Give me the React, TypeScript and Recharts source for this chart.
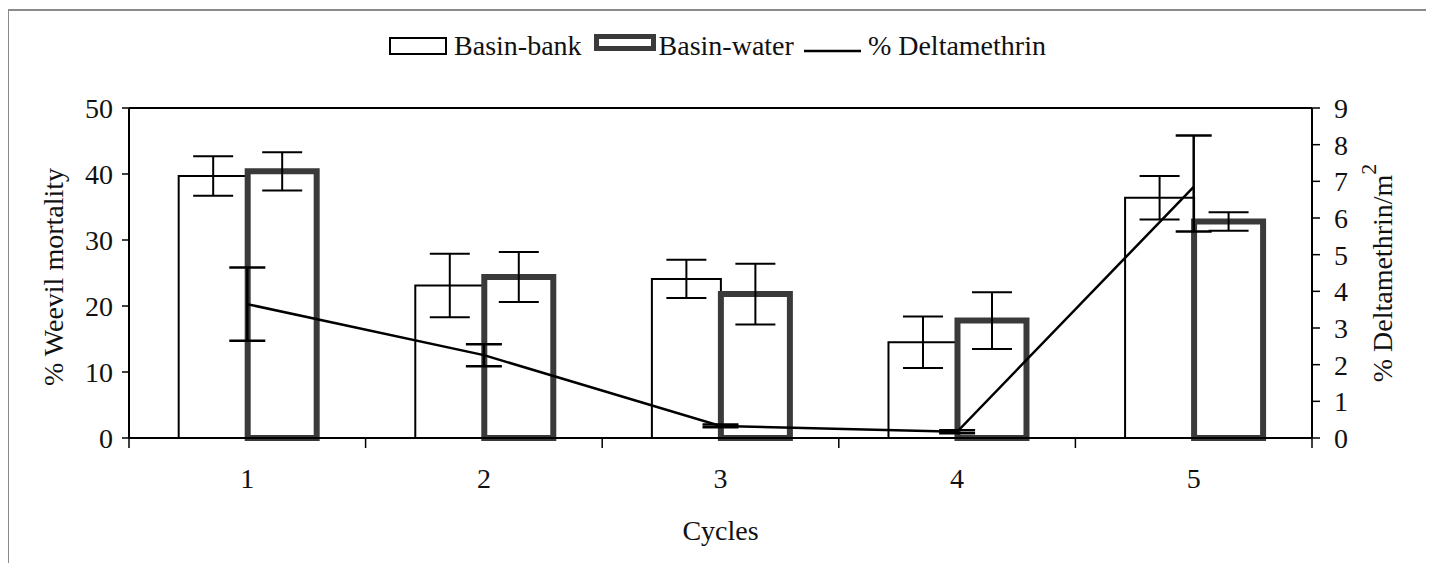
import React from "react";
import {
  Bar,
  ComposedChart,
  ErrorBar,
  Legend,
  Line,
  ReferenceLine,
  XAxis,
  YAxis,
} from "recharts";

const cycles = ["1", "2", "3", "4", "5"];
const basinBank = [39.7, 23.1, 24.1, 14.5, 36.4];
const basinBankErr = [3.0, 4.8, 2.9, 3.9, 3.3];
const basinWater = [40.4, 24.4, 21.8, 17.8, 32.8];
const basinWaterErr = [2.9, 3.8, 4.6, 4.3, 1.4];
const deltamethrin = [3.65, 2.26, 0.33, 0.17, 6.85];
const deltamethrinErr = [
  [1.0, 1.0],
  [0.3, 0.3],
  [0.04, 0.04],
  [0.04, 0.04],
  [1.22, 1.4],
];
const leftTicks = [0, 10, 20, 30, 40, 50];
const rightTicks = [0, 1, 2, 3, 4, 5, 6, 7, 8, 9];

const data = cycles.map((c, i) => ({
  cycle: c,
  bank: basinBank[i],
  bankErr: basinBankErr[i],
  water: basinWater[i],
  waterErr: basinWaterErr[i],
  delta: deltamethrin[i],
  deltaErr: deltamethrinErr[i],
}));

const FONT = "'Liberation Serif', 'Times New Roman', serif";
const INK = "#111";
const WATER = "#3a3a3a";
const X_TICK_GAP = 30;

const tickStyle = { fontSize: 28, fill: INK, fontFamily: FONT };

// category label plus the small tick marks that sit on the category boundaries
function CycleTick(props: any) {
  const { x, y, payload, index } = props;
  const half = payload.offset || 0;
  const axisY = y - X_TICK_GAP;
  return (
    <g>
      <line x1={x - half} y1={axisY} x2={x - half} y2={axisY + 10} stroke="#000" strokeWidth={1.5} />
      {index === cycles.length - 1 && (
        <line x1={x + half} y1={axisY} x2={x + half} y2={axisY + 10} stroke="#000" strokeWidth={1.5} />
      )}
      <text x={x} y={y} dy="0.71em" textAnchor="middle" {...tickStyle}>
        {payload.value}
      </text>
    </g>
  );
}

function LeftTitle(props: any) {
  const { x, y, height } = props.viewBox;
  const cx = x + 54;
  const cy = y + height / 2 + 4;
  return (
    <text
      x={cx}
      y={cy}
      transform={`rotate(-90 ${cx} ${cy})`}
      textAnchor="middle"
      fontSize={28}
      fontFamily={FONT}
      fill={INK}>
      % Weevil mortality
    </text>
  );
}

function RightTitle(props: any) {
  const { x, y, height } = props.viewBox;
  const cx = x + 80;
  const cy = y + height / 2;
  return (
    <text
      x={cx}
      y={cy}
      transform={`rotate(-90 ${cx} ${cy})`}
      textAnchor="middle"
      fontSize={28}
      fontFamily={FONT}
      fill={INK}>
      % Deltamethrin/m
      <tspan dy={-16} fontSize={22}>
        2
      </tspan>
    </text>
  );
}

function LegendBox() {
  return (
    <div
      style={{
        height: 77,
        display: "flex",
        justifyContent: "center",
        alignItems: "flex-start",
        fontFamily: FONT,
        fontSize: 28,
        color: INK,
      }}>
      <div style={{ display: "flex", alignItems: "center", height: 30, lineHeight: "30px" }}>
        <svg width={58} height={18}>
          <rect x={1} y={1} width={56} height={16} fill="#fff" stroke="#000" strokeWidth={2} />
        </svg>
        <span style={{ marginLeft: 7 }}>Basin-bank</span>
        <svg width={62} height={17} style={{ marginLeft: 12, position: "relative", top: -4 }}>
          <rect x={2.5} y={2.5} width={57} height={12} fill="#fff" stroke={WATER} strokeWidth={5} />
        </svg>
        <span style={{ marginLeft: 3 }}>Basin-water</span>
        <svg width={57} height={4} style={{ marginLeft: 10, position: "relative", top: 5 }}>
          <line x1={0} y1={2} x2={57} y2={2} stroke="#000" strokeWidth={2.5} />
        </svg>
        <span style={{ marginLeft: 7 }}>% Deltamethrin</span>
      </div>
    </div>
  );
}

export default function App() {
  return (
    <div
      style={{
        position: "relative",
        left: -1,
        top: 1,
        width: 1421,
        height: 555,
        boxSizing: "border-box",
        borderTop: "2px solid #8a8a8a",
        borderLeft: "2px solid #8a8a8a",
        borderRight: "2px solid #8a8a8a",
        background: "#fff",
      }}>
      <ComposedChart
        width={1417}
        height={553}
        data={data}
        margin={{ top: 20, right: 0, bottom: 0, left: 0 }}
        barGap={0}
        barCategoryGap="21%">
        <Legend verticalAlign="top" content={() => <LegendBox />} />
        <XAxis
          dataKey="cycle"
          height={126}
          interval={0}
          tick={<CycleTick />}
          tickLine={false}
          tickSize={0}
          tickMargin={X_TICK_GAP}
          axisLine={{ stroke: "#000", strokeWidth: 2 }}
          label={{
            value: "Cycles",
            position: "insideBottom",
            offset: 24,
            fontSize: 28,
            fontFamily: FONT,
            fill: INK,
          }}
        />
        <YAxis
          yAxisId="left"
          width={120}
          domain={[0, 50]}
          ticks={leftTicks}
          interval={0}
          tick={tickStyle}
          tickSize={7}
          tickMargin={9}
          axisLine={{ stroke: "#000", strokeWidth: 2 }}
          tickLine={{ stroke: "#000", strokeWidth: 1.5 }}
          label={<LeftTitle />}
        />
        <YAxis
          yAxisId="right"
          orientation="right"
          width={114}
          domain={[0, 9]}
          ticks={rightTicks}
          interval={0}
          tick={tickStyle}
          tickSize={8}
          tickMargin={14}
          axisLine={{ stroke: "#000", strokeWidth: 2 }}
          tickLine={{ stroke: "#000", strokeWidth: 1.5 }}
          label={<RightTitle />}
        />
        <ReferenceLine yAxisId="left" y={50} stroke="#000" strokeWidth={2} />
        <Bar
          yAxisId="left"
          dataKey="bank"
          name="Basin-bank"
          fill="#fff"
          stroke="#000"
          strokeWidth={2}
          isAnimationActive={false}>
          <ErrorBar dataKey="bankErr" width={20} stroke="#000" strokeWidth={2} />
        </Bar>
        <Bar
          yAxisId="left"
          dataKey="water"
          name="Basin-water"
          fill="#fff"
          stroke={WATER}
          strokeWidth={6}
          isAnimationActive={false}>
          <ErrorBar dataKey="waterErr" width={20} stroke="#000" strokeWidth={2} />
        </Bar>
        <Line
          yAxisId="right"
          type="linear"
          dataKey="delta"
          name="% Deltamethrin"
          stroke="#000"
          strokeWidth={2.5}
          dot={false}
          isAnimationActive={false}>
          <ErrorBar dataKey="deltaErr" width={18} stroke="#000" strokeWidth={2.5} />
        </Line>
      </ComposedChart>
    </div>
  );
}
